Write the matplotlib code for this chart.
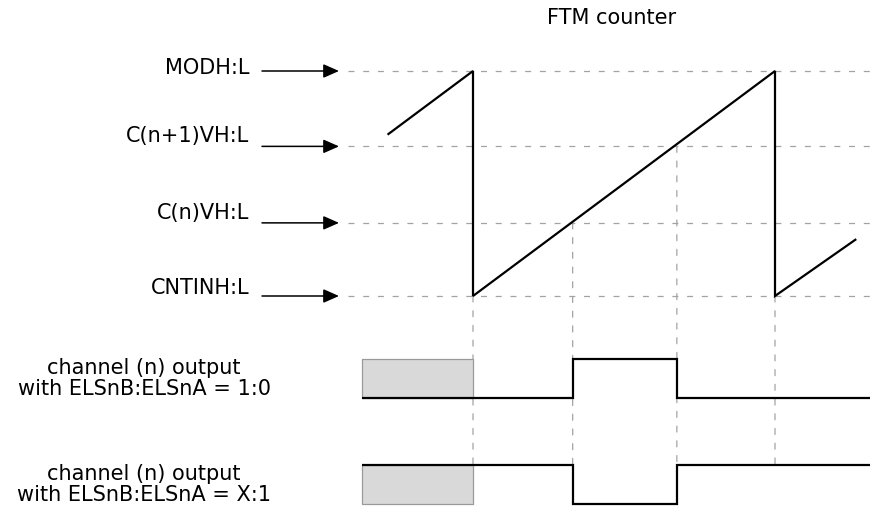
import matplotlib
matplotlib.use("Agg")
import matplotlib.pyplot as plt
from matplotlib.patches import ConnectionPatch

plt.rcParams['font.family'] = ['DejaVu Sans']
plt.rcParams['lines.scale_dashes'] = False

# ---------------- data ----------------
# FTM counter sawtooth (time in counter ticks, value in counts)
counter_t = [-28, 0, 0, 100, 100, 126.6]
counter_v = [72, 100, 0, 100, 0, 25]

# reference levels
level_names = ["MODH:L", "C(n+1)VH:L", "C(n)VH:L", "CNTINH:L"]
level_values = [100, 66.5, 32.5, 0]

# times of events
reset_times = [0, 100]          # counter reload to CNTIN
match_times = [33, 67.5]        # C(n) match, C(n+1) match
match_levels = [32.5, 66.5]

# channel output waveforms (edges in ticks, states 0/1)
out_edges = [-36.8, 33, 67.5, 131.5]
out1_states = [0, 1, 0]   # ELSnB:ELSnA = 1:0
out2_states = [1, 0, 1]   # ELSnB:ELSnA = X:1
unknown_span = [-36.8, 0]

out_labels = ["channel (n) output\nwith ELSnB:ELSnA = 1:0",
              "channel (n) output\nwith ELSnB:ELSnA = X:1"]
title = "FTM counter"

# ---------------- layout (pixels) ----------------
W, H = 872, 508
X0_PX, T_PX = 473, 3.02      # px of t=0, px per tick
Y0_PX, L_PX = 296, 2.25      # px of count 0, px per count
GRID_T0 = -41.4
GRID_T1 = 131.5

fig = plt.figure(figsize=(W / 100, H / 100), dpi=100)
xlim = (-X0_PX / T_PX, (W - X0_PX) / T_PX)

ax = fig.add_axes([0, 0, 1, 1])
ax.set_xlim(*xlim)
ax.set_ylim((Y0_PX - H) / L_PX, Y0_PX / L_PX)
ax.axis('off')

def out_axes(high_px, low_px):
    u = low_px - high_px
    bottom_px = low_px + 0.25 * u
    a = fig.add_axes([0, 1 - bottom_px / H, 1, 1.5 * u / H])
    a.set_xlim(*xlim)
    a.set_ylim(-0.25, 1.25)
    a.axis('off')
    return a

ax1 = out_axes(359, 398)
ax2 = out_axes(465, 504)

grid_color = '#a3a3a3'
dash = (0, (4.3, 6.3))

# horizontal dashed reference lines
ax.hlines(level_values, GRID_T0, GRID_T1, colors=grid_color, lw=0.9,
          linestyles=[dash], zorder=1)

# sawtooth
ax.plot(counter_t, counter_v, color='black', lw=1.6, zorder=3,
        solid_joinstyle='miter')

# arrows + labels
label_dy_px = [3, 10, 10, 8]
for name, lv, dy in zip(level_names, level_values, label_dy_px):
    t_tail = (262 - X0_PX) / T_PX
    t_head = (339 - X0_PX) / T_PX
    ax.annotate('', xy=(t_head, lv), xytext=(t_tail, lv),
                arrowprops=dict(arrowstyle='-|>,head_length=0.95,head_width=0.42',
                                mutation_scale=10, lw=1.1, color='black',
                                shrinkA=0, shrinkB=0))
    ax.text((249 - X0_PX) / T_PX, lv + dy / L_PX, name, ha='right',
            va='center', fontsize=15, color='black')

ax.text((612 - X0_PX) / T_PX, (Y0_PX - 18) / L_PX, title, ha='center',
        va='center', fontsize=15, color='black')

# vertical dashed connectors from counter to the outputs
vt = reset_times + match_times
vl = [0, 0] + match_levels
for t, lv in zip(vt, vl):
    cp = ConnectionPatch(xyA=(t, lv), coordsA=ax.transData,
                         xyB=(t, 1), coordsB=ax2.transData,
                         color=grid_color, lw=0.9, linestyle=dash, zorder=0)
    fig.add_artist(cp)

# outputs
for a, states, lab in zip([ax1, ax2], [out1_states, out2_states], out_labels):
    a.fill_between(unknown_span, 0, 1, facecolor='#d9d9d9',
                   edgecolor='#9a9a9a', lw=0.9, zorder=1)
    a.stairs(states, out_edges, baseline=None, color='black', lw=1.6,
             zorder=3)
    a.text((144 - X0_PX) / T_PX, 0.5, lab, ha='center', va='center',
           fontsize=15, linespacing=1.1, color='black')

fig.savefig('out.png', dpi=100)
